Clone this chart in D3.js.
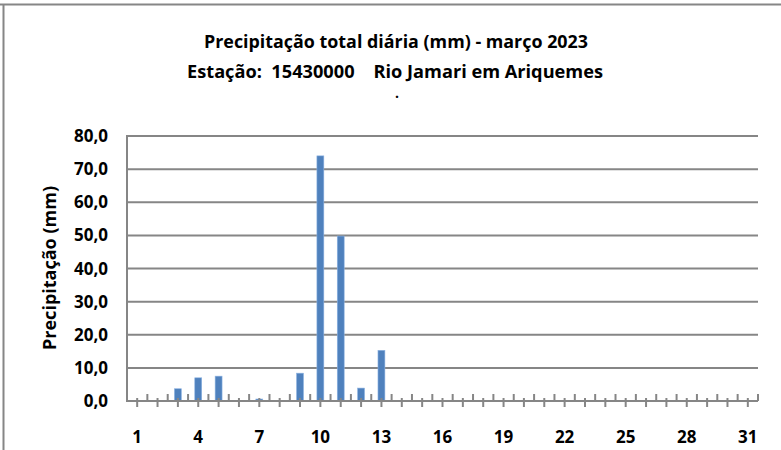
<!DOCTYPE html>
<html>
<head>
<meta charset="utf-8">
<script src="https://cdn.jsdelivr.net/npm/d3@7"></script>
<style>
body{margin:0;background:#fff;}
text{font-family:"Open Sans","Liberation Sans",sans-serif;font-weight:bold;fill:#000;}
</style>
</head>
<body>
<script>
let days = d3.range(1, 32)
let values = [0,0,3.7,7.0,7.5,0.2,0.6,0,8.4,74.0,49.8,3.9,15.3,0,0,0,0,0,0,0,0,0,0,0,0,0,0,0,0,0,0]
let yTicks = [0,10,20,30,40,50,60,70,80]
let xLabels = [1,4,7,10,13,16,19,22,25,28,31]
let title1 = "Precipitação total diária (mm) - março 2023"
let title2 = "Estação:  15430000    Rio Jamari em Ariquemes"
let yTitle = "Precipitação (mm)"

let w = 781, h = 450
let m = {left:127, right:23, top:136, bottom:49}

let svg = d3.select("body").append("svg").attr("width", w).attr("height", h)

// frame of the chart
svg.append("line").attr("x1",0).attr("x2",w).attr("y1",4.5).attr("y2",4.5).attr("stroke","#868686").attr("stroke-width",2)
svg.append("line").attr("x1",3.5).attr("x2",3.5).attr("y1",4).attr("y2",h).attr("stroke","#868686").attr("stroke-width",2)

let x = d3.scaleBand().domain(days).range([m.left, w-m.right]).paddingInner(0.66).paddingOuter(0.33)
let xb = d3.scaleBand().domain(days).range([m.left, w-m.right])
let y = d3.scaleLinear().domain([0,80]).range([h-m.bottom, m.top])

svg.append("g").selectAll("line").data(yTicks.filter(d=>d>0)).enter().append("line")
    .attr("x1", m.left).attr("x2", w-m.right)
    .attr("y1", d=>y(d)).attr("y2", d=>y(d))
    .attr("stroke","#868686").attr("stroke-width",2)

svg.append("g").selectAll("text").data(yTicks).enter().append("text")
    .attr("x", 108).attr("y", d=>y(d)).attr("dy","0.36em")
    .attr("text-anchor","end").style("font-size","17px")
    .text(d=>d3.format(".1f")(d).replace(".",","))

svg.selectAll("rect.bar").data(values).enter().append("rect").attr("class","bar")
    .attr("x", (d,i)=>x(days[i]))
    .attr("width", x.bandwidth())
    .attr("y", d=>y(d))
    .attr("height", d=>y(0)-y(d))
    .attr("fill","#4F81BD").attr("stroke","#8db3e2").attr("stroke-width",0.6)

// axes lines
let ax = svg.append("g").attr("stroke","#868686").attr("stroke-width",2)
ax.append("line").attr("x1",m.left).attr("x2",m.left).attr("y1",m.top-1).attr("y2",y(0)+1)
ax.append("line").attr("x1",m.left).attr("x2",w-m.right).attr("y1",y(0)).attr("y2",y(0))
ax.selectAll("line.c").data(days).enter().append("line").attr("class","c")
    .attr("x1", d=>xb(d)+xb.bandwidth()/2).attr("x2", d=>xb(d)+xb.bandwidth()/2)
    .attr("y1", y(0)-3).attr("y2", y(0)+6)
ax.selectAll("line.b").data(days).enter().append("line").attr("class","b")
    .attr("x1", d=>xb(d)+xb.bandwidth()).attr("x2", d=>xb(d)+xb.bandwidth())
    .attr("y1", y(0)-7).attr("y2", y(0))

svg.append("g").selectAll("text").data(xLabels).enter().append("text")
    .attr("x", d=>xb(d)+xb.bandwidth()/2).attr("y", 437).attr("dy","0.36em")
    .attr("text-anchor","middle").style("font-size","17px")
    .text(d=>d)

svg.append("text").attr("x",396).attr("y",48).attr("text-anchor","middle")
    .style("font-size","17px").attr("textLength",384).attr("lengthAdjust","spacingAndGlyphs").text(title1)
svg.append("text").attr("x",395).attr("y",78).attr("text-anchor","middle").style("white-space","pre")
    .style("font-size","17px").attr("textLength",416).attr("lengthAdjust","spacingAndGlyphs").text(title2)
svg.append("text").attr("x",397).attr("y",98).attr("text-anchor","middle").style("font-size","14px").text(".")

svg.append("text").attr("transform","translate(56,268) rotate(-90)").attr("text-anchor","middle")
    .style("font-size","17px").attr("textLength",164).attr("lengthAdjust","spacingAndGlyphs").text(yTitle)
</script>
</body>
</html>
